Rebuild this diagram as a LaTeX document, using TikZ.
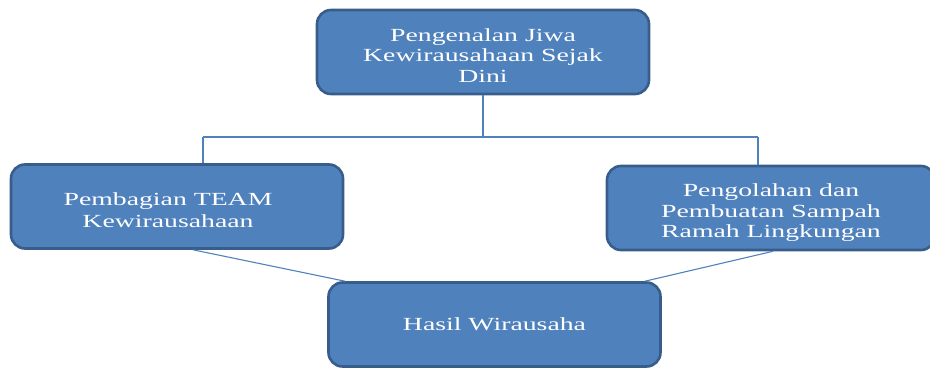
\documentclass[tikz,border=0pt]{standalone}
\usepackage{fontspec}
\setmainfont{Liberation Serif}[FakeStretch=1.5]
\definecolor{boxfill}{HTML}{4F81BD}
\definecolor{boxedge}{HTML}{385D8A}
\definecolor{linkcol}{HTML}{4F81BD}
\newcommand{\downstrut}{\rule{0pt}{20pt}}
\newcommand{\padright}{\hspace*{18pt}}
\begin{document}
\begin{tikzpicture}[x=1pt,y=-1pt,
  box/.style={draw=boxedge, fill=boxfill, line width=2.6pt, rounded corners=14pt,
    text=white, align=center, font=\fontsize{18.5}{20.8}\selectfont,
    minimum width=332pt, minimum height=84pt, inner sep=0pt},
  link/.style={draw=linkcol, line width=1.1pt}]
\useasboundingbox (0,0) rectangle (930,369);
\clip (0,0) rectangle (930,369);
\coordinate (busL) at (203,137);
\coordinate (busR) at (758,137);
\node[box] (T) at (483,52) {\downstrut Pengenalan Jiwa\\Kewirausahaan Sejak\\Dini};
\node[box, font=\fontsize{18.5}{21.8}\selectfont] (L) at (177,206.5) {\downstrut Pembagian TEAM\padright\\Kewirausahaan\padright};
\node[box, minimum width=328pt] (R) at (771,208) {\rule{0pt}{22pt}Pengolahan dan\\Pembuatan Sampah\\Ramah Lingkungan};
\node[box] (B) at (494.5,324.5) {Hasil Wirausaha};
\draw[link] (T.south) -- (T.south |- busL);
\draw[link] (busL) -- (busR);
\draw[link] (busL) -- (busL |- L.north);
\draw[link] (busR) -- (busR |- R.north);
\draw[link] ([xshift=16pt]L.south) -- ([xshift=-149.5pt]B.north);
\draw[link] ([xshift=2pt]R.south) -- ([xshift=150.5pt]B.north);
\end{tikzpicture}
\end{document}
